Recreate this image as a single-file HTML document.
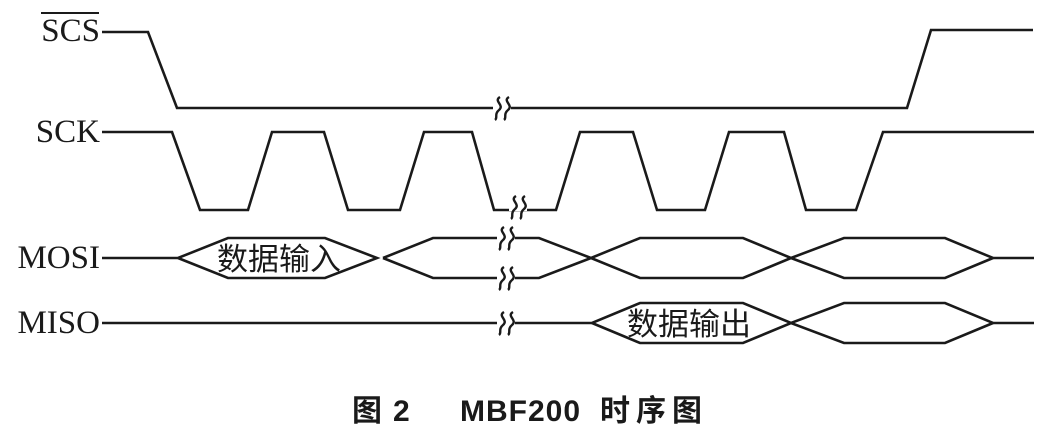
<!DOCTYPE html>
<html><head><meta charset="utf-8"><style>
html,body{margin:0;padding:0;background:#fff;}
svg{display:block;}
</style></head><body>
<svg width="1057" height="446" viewBox="0 0 1057 446" xmlns="http://www.w3.org/2000/svg">
<defs>
<g id="sq">
<rect x="-9" y="-4" width="18" height="8" fill="#fff"/>
<path d="M -2,-11 C -9,-7 3,-3 -3,2 C -8,6 -4,10 -7,12" fill="none" stroke="#1a1a1a" stroke-width="2.4"/>
<path d="M 7,-11 C 0,-7 12,-3 6,2 C 1,6 5,10 2,12" fill="none" stroke="#1a1a1a" stroke-width="2.4"/>
</g>
</defs>
<g fill="none" stroke="#1a1a1a" stroke-width="2.6" stroke-linejoin="miter">
<polyline points="102,32 148,32 177,108 907,108 931,30 1033,30"/>
<polyline points="102,132 172,132 200,210 248,210 272,132 324,132 348,210 400,210 424,132 472,132 494,210 556,210 580,132 633,132 657,210 705,210 729,132 784,132 806,210 856,210 883,132 1034,132"/>
<polyline points="102,258 178,258 228,238 325,238 377,258 325,278 228,278 178,258"/>
<polyline points="383,258 433,238 539,238 591,258 640,278 743,278 791,258 844,238 945,238 993,258 1034,258"/>
<polyline points="383,258 433,278 539,278 591,258 640,238 743,238 791,258 844,278 945,278 993,258"/>
<polyline points="102,323 592,323 640,303 743,303 791,323 844,303 945,303 993,323 1034,323"/>
<polyline points="592,323 640,343 743,343 791,323 844,343 945,343 993,323"/>
</g>
<use href="#sq" x="502" y="108"/>
<use href="#sq" x="518" y="207"/>
<use href="#sq" x="506" y="238"/>
<use href="#sq" x="506" y="278"/>
<use href="#sq" x="506" y="323"/>
<g font-family="'Liberation Serif', serif" font-size="33" fill="#1a1a1a" text-anchor="end">
<text x="100" y="41">SCS</text>
<text x="100" y="142">SCK</text>
<text x="100" y="268">MOSI</text>
<text x="100" y="333">MISO</text>
</g>
<line x1="41" y1="13" x2="99" y2="13" stroke="#1a1a1a" stroke-width="2"/>
<g font-family="'Liberation Sans','Noto Sans CJK SC', sans-serif" font-size="31" fill="#1a1a1a" text-anchor="middle">
<text x="279" y="270">数据输入</text>
<text x="689" y="335">数据输出</text>
</g>
<g font-family="'Liberation Sans','Noto Sans CJK SC', sans-serif" font-size="30" font-weight="bold" fill="#1a1a1a">
<text x="352" y="421">图</text>
<text x="393" y="421">2</text>
<text x="460" y="421" letter-spacing="1">MBF200</text>
<text x="600" y="421" letter-spacing="6">时序图</text>
</g>
</svg>
</body></html>
